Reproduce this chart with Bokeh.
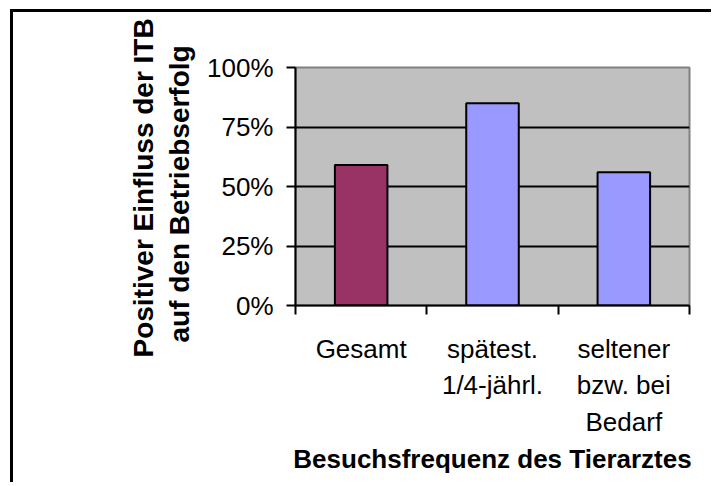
from bokeh.plotting import figure
from bokeh.models import FixedTicker, Title, Range1d
from bokeh.embed import file_html
from bokeh.resources import INLINE

# ---- data ----
categories = ["Gesamt", "spätest.\n1/4-jährl.", "seltener\nbzw. bei\nBedarf"]
values = [0.59, 0.85, 0.56]
bar_colors = ["#993366", "#9999FF", "#9999FF"]
y_ticks = [0, 0.25, 0.5, 0.75, 1.0]
y_tick_labels = ["0%", "25%", "50%", "75%", "100%"]
y_title_lines = ["Positiver Einfluss der ITB", "auf den Betriebserfolg"]
x_title = "Besuchsfrequenz des Tierarztes"

FONT = "Liberation Sans"
xs = [i + 0.5 for i in range(len(categories))]

BL, BR, BT, BB = 282, 25, 55, 180   # borders around the plot frame
p = figure(width=701, height=473, output_backend="svg", toolbar_location=None,
           x_range=Range1d(0, len(categories)), y_range=Range1d(0, 1),
           min_border_left=BL, min_border_right=BR, min_border_top=BT,
           min_border_bottom=BB)

# outer chart-area frame (only its left and top edges are inside the window)
p.styles = {"border-left": "3px solid black", "border-top": "3px solid black",
            "margin-left": "10px", "margin-top": "9px"}

p.background_fill_color = "#C0C0C0"
p.border_fill_color = "white"
p.outline_line_color = "#808080"
p.outline_line_width = 2

p.vbar(x=xs, top=values, width=0.4, fill_color=bar_colors,
       line_color="black", line_width=2)

# grid
p.xgrid.visible = False
p.ygrid.ticker = FixedTicker(ticks=y_ticks[1:])
p.ygrid.grid_line_color = "black"
p.ygrid.grid_line_width = 2

# y axis
ya = p.yaxis[0]
ya.ticker = FixedTicker(ticks=y_ticks)
ya.major_label_overrides = {t: l for t, l in zip(y_ticks, y_tick_labels)}
ya.major_label_text_font = FONT
ya.major_label_text_font_size = "26px"
ya.major_label_text_color = "black"
ya.major_tick_out = 9
ya.major_tick_in = 0
ya.minor_tick_out = 0
ya.minor_tick_in = 0
ya.major_tick_line_width = 2
ya.major_tick_line_color = "black"
ya.axis_line_color = "black"
ya.axis_line_width = 2
ya.major_label_standoff = 13

# x axis
xa = p.xaxis[0]
xa.ticker = FixedTicker(ticks=xs, minor_ticks=list(range(len(categories) + 1)))
xa.major_label_overrides = {x: c for x, c in zip(xs, categories)}
xa.major_label_text_font = FONT
xa.major_label_text_font_size = "26px"
xa.major_label_text_color = "black"
xa.major_label_text_line_height = 1.22
xa.major_tick_out = 0
xa.major_tick_in = 0
xa.minor_tick_out = 9
xa.minor_tick_in = 0
xa.minor_tick_line_width = 2
xa.minor_tick_line_color = "black"
xa.axis_line_color = "black"
xa.axis_line_width = 2
xa.major_label_standoff = 19
xa.axis_label = x_title
xa.axis_label_text_font = FONT
xa.axis_label_text_font_style = "bold"
xa.axis_label_text_font_size = "26px"
xa.axis_label_text_color = "black"
xa.axis_label_standoff = 4

# y axis title: two lines (second line nearest the axis)
p.add_layout(Title(text=y_title_lines[1], align="left", offset=-37, text_font=FONT,
                   text_font_style="bold", text_font_size="28px",
                   text_color="black", standoff=20), "left")
p.add_layout(Title(text=y_title_lines[0], align="left", offset=-52, text_font=FONT,
                   text_font_style="bold", text_font_size="28px",
                   text_color="black", standoff=-14), "left")

open("out.html", "w").write(file_html(p, INLINE))
